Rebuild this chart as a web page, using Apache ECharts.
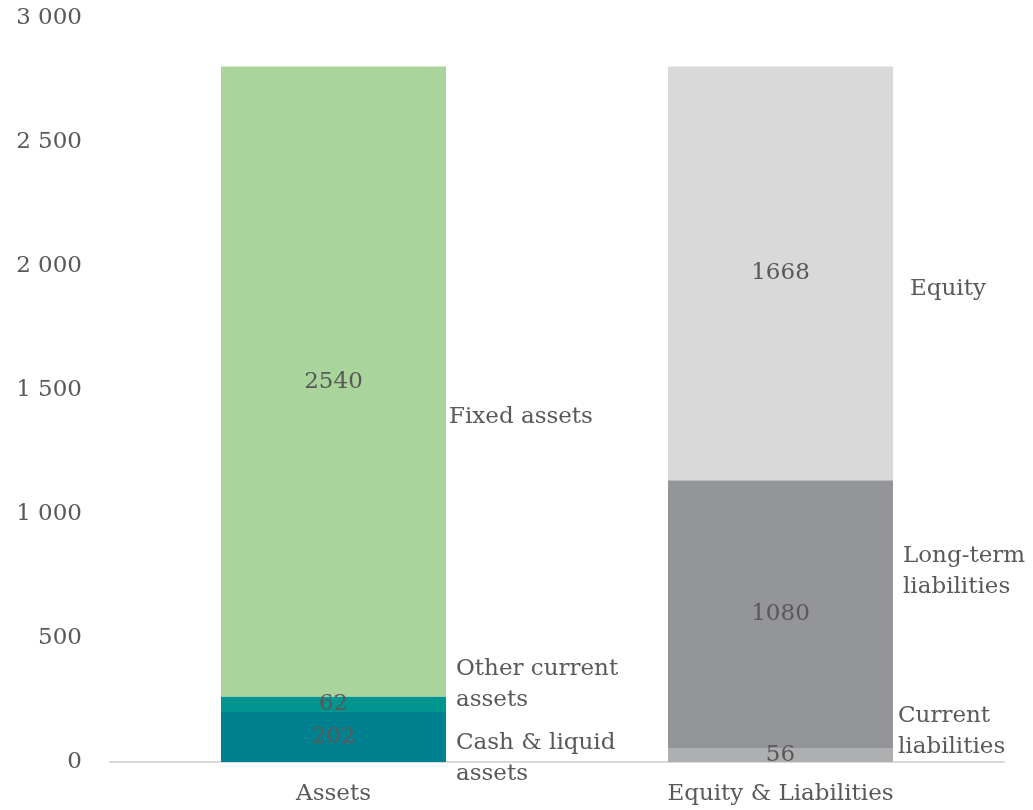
<!DOCTYPE html>
<html>
<head>
<meta charset="utf-8">
<script src="https://cdn.jsdelivr.net/npm/echarts@6/dist/echarts.min.js"></script>
<style>
  html, body { margin: 0; padding: 0; background: #ffffff; }
  #chart { width: 1033px; height: 810px; }
</style>
</head>
<body>
<div id="chart"></div>
<script>
// Balance sheet structure: two stacked columns
const categories = ['Assets', 'Equity & Liabilities'];

// Assets side (bottom to top)
const assetNames = ['Cash & liquid assets', 'Other current assets', 'Fixed assets'];
const cashAssets = [202, null];
const otherCurrentAssets = [62, null];
const fixedAssets = [2540, null];

// Equity & liabilities side (bottom to top)
const liabilityNames = ['Current liabilities', 'Long-term liabilities', 'Equity'];
const currentLiabilities = [null, 56];
const longTermLiabilities = [null, 1080];
const equity = [null, 1668];

// Y axis range
const yMin = 0;
const yMax = 3000;
const yStep = 500;

const FONT = 'DejaVu Serif';
const TEXT = '#595959';
const FS = 23;

const layers = [
  { name: assetNames[0], data: cashAssets, color: '#00818F' },
  { name: assetNames[1], data: otherCurrentAssets, color: '#00968F' },
  { name: assetNames[2], data: fixedAssets, color: '#A9D49C' },
  { name: liabilityNames[0], data: currentLiabilities, color: '#AEAFB1' },
  { name: liabilityNames[1], data: longTermLiabilities, color: '#939598' },
  { name: liabilityNames[2], data: equity, color: '#D9D9D9' }
];

// Pixel placement of the side captions next to each segment: [dx from bar edge, dy from segment middle]
const captionShift = {
  'Cash & liquid assets': [10, 22],
  'Other current assets': [10, -20],
  'Fixed assets': [3, 35],
  'Current liabilities': [5, -24],
  'Long-term liabilities': [10, -43],
  'Equity': [17, 16]
};
const captionText = {
  'Cash & liquid assets': 'Cash & liquid\nassets',
  'Other current assets': 'Other current\nassets',
  'Fixed assets': 'Fixed assets',
  'Current liabilities': 'Current\nliabilities',
  'Long-term liabilities': 'Long-term\nliabilities',
  'Equity': 'Equity'
};

const BAR_W = 225;

// Segment midpoints, computed from the stacked values
const running = categories.map(() => 0);
const captionPoints = [];
layers.forEach(l => {
  l.data.forEach((v, i) => {
    if (v == null) return;
    const mid = running[i] + v / 2;
    running[i] += v;
    captionPoints.push({ value: [categories[i], mid], name: l.name });
  });
});

const series = layers.map(l => ({
  name: l.name,
  type: 'bar',
  stack: 'total',
  barWidth: BAR_W,
  data: l.data,
  itemStyle: { color: l.color },
  label: {
    show: true,
    position: 'inside',
    color: TEXT,
    fontFamily: FONT,
    fontSize: FS,
    formatter: p => p.value
  },
  z: 2
}));

series.push({
  type: 'scatter',
  symbolSize: 0,
  itemStyle: { opacity: 1 },
  data: captionPoints.map(p => {
    const s = captionShift[p.name];
    return {
      value: p.value,
      name: p.name,
      label: {
        show: true,
        position: [BAR_W / 2 + s[0], s[1]],
        align: 'left',
        verticalAlign: 'middle',
        formatter: () => captionText[p.name],
        color: TEXT,
        opacity: 1,
        fontFamily: FONT,
        fontSize: FS,
        lineHeight: 31
      }
    };
  }),
  silent: true,
  z: 5
});

const chart = echarts.init(document.getElementById('chart'));
chart.setOption({
  animation: false,
  grid: { left: 110, right: 29, top: 18, bottom: 48, containLabel: false },
  xAxis: {
    type: 'category',
    data: categories,
    axisTick: { show: false },
    axisLine: { lineStyle: { color: '#D9D9D9', width: 2 } },
    axisLabel: { color: TEXT, fontFamily: FONT, fontSize: FS, margin: 21 }
  },
  yAxis: {
    type: 'value',
    min: yMin,
    max: yMax,
    interval: yStep,
    splitLine: { show: false },
    axisLine: { show: false },
    axisTick: { show: false },
    axisLabel: {
      color: TEXT,
      fontFamily: FONT,
      fontSize: FS,
      margin: 28,
      formatter: v => String(v).replace(/\B(?=(\d{3})+(?!\d))/g, ' ')
    }
  },
  series: series
});
</script>
</body>
</html>
